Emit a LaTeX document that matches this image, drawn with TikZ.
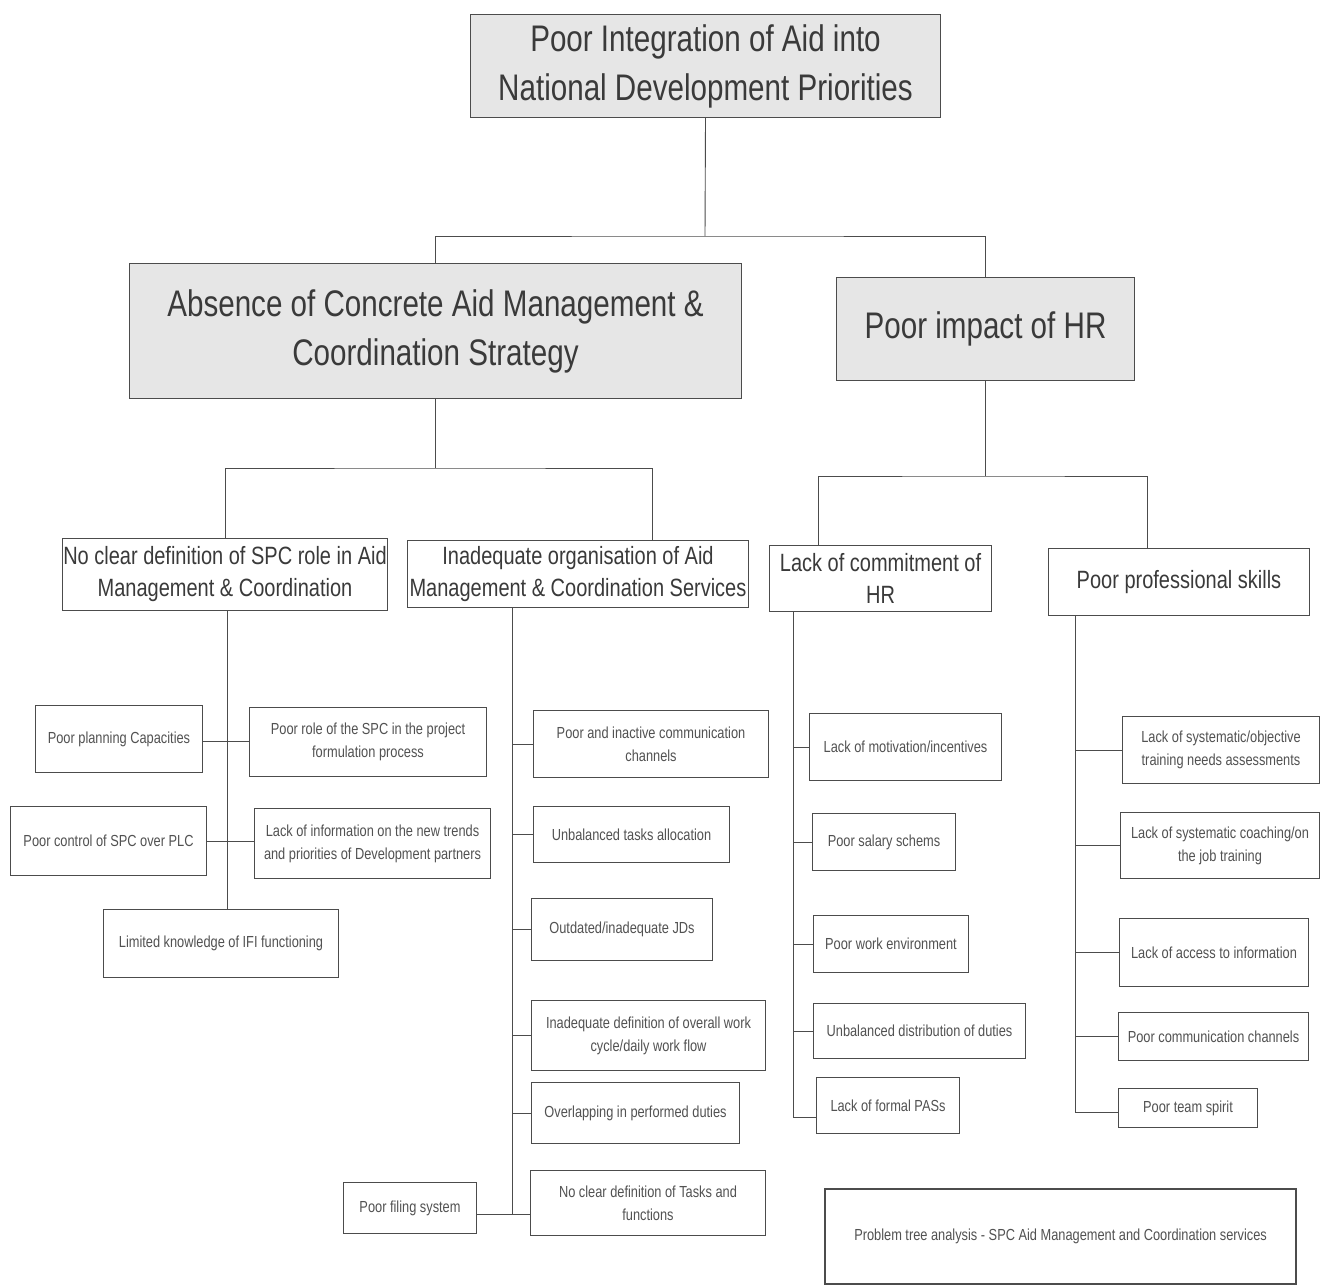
\documentclass[tikz,border=0pt]{standalone}
\usepackage{fontspec}
\setmainfont{Liberation Sans}
\newfontfamily\nar[FakeStretch=0.8]{Liberation Sans}
\definecolor{ink}{HTML}{3A3A3A}
\definecolor{boxfill}{HTML}{E6E6E6}
\newcommand\bx[7][]{%
  \node[#1, minimum width={(#5-#3)*1pt}, minimum height={(#6-#4)*1pt}, anchor=north west] (#2) at (#3,#4) {#7};}
\begin{document}
\begin{tikzpicture}[x=1pt,y=-1pt,
  box/.style={draw=black!70, line width=1pt, inner sep=0pt, align=center, text=black!68, font=\nar\fontsize{16}{23}\selectfont},
  big/.style={box, fill=boxfill, text=ink, font=\nar\fontsize{37}{49}\selectfont},
  mid/.style={box, text=ink, font=\nar\fontsize{25}{32}\selectfont},
  legendbox/.style={box, line width=2.2pt, draw=black!70},
  wire/.style={draw=black!70, line width=0.9pt}]
\useasboundingbox (0,0) rectangle (1322,1285);
\fill[white] (0,0) rectangle (1322,1285);

% level 0-1
\bx[big]{top}{470}{14}{940}{117}{Poor Integration of Aid into\\National Development Priorities}
\bx[big]{A}{129}{263}{741}{398}{Absence of Concrete Aid Management \&\\Coordination Strategy}
\bx[big]{B}{836}{277}{1134}{380}{Poor impact of HR}

% level 2
\bx[mid]{C1}{62}{538}{387}{610}{No clear definition of SPC role in Aid\\Management \& Coordination}
\bx[mid]{C2}{407}{540}{748}{607}{Inadequate organisation of Aid\\Management \& Coordination Services}
\bx[mid]{C3}{769}{545}{991}{611}{Lack of commitment of\\HR}
\bx[mid]{C4}{1048}{548}{1309}{615}{Poor professional skills}

% left column
\bx[box]{pp}{35}{705}{202}{772}{Poor planning Capacities}
\bx[box]{pr}{249}{707}{486}{776}{Poor role of the SPC in the project\\formulation process}
\bx[box]{pc}{10}{806}{206}{875}{Poor control of SPC over PLC}
\bx[box]{li}{254}{808}{490}{878}{Lack of information on the new trends\\and priorities of Development partners}
\bx[box]{lk}{103}{909}{338}{977}{Limited knowledge of IFI functioning}

% middle column
\bx[box]{m1}{533}{710}{768}{777}{Poor and inactive communication\\channels}
\bx[box]{m2}{533}{806}{729}{862}{Unbalanced tasks allocation}
\bx[box]{m3}{531}{898}{712}{960}{Outdated/inadequate JDs}
\bx[box]{m4}{531}{1000}{765}{1070}{Inadequate definition of overall work\\cycle/daily work flow}
\bx[box]{m5}{531}{1082}{739}{1143}{Overlapping in performed duties}
\bx[box]{m6}{530}{1170}{765}{1235}{No clear definition of Tasks and\\functions}
\bx[box]{pf}{343}{1182}{476}{1233}{Poor filing system}

% HR commitment column
\bx[box]{r1}{809}{713}{1001}{780}{Lack of motivation/incentives}
\bx[box]{r2}{812}{813}{955}{870}{Poor salary schems}
\bx[box]{r3}{813}{915}{968}{972}{Poor work environment}
\bx[box]{r4}{813}{1003}{1025}{1058}{Unbalanced distribution of duties}
\bx[box]{r5}{816}{1077}{959}{1133}{Lack of formal PASs}

% professional skills column
\bx[box]{s1}{1122}{716}{1319}{783}{Lack of systematic/objective\\training needs assessments}
\bx[box]{s2}{1120}{812}{1319}{878}{Lack of systematic coaching/on\\the job training}
\bx[box]{s3}{1119}{918}{1308}{986}{Lack of access to information}
\bx[box]{s4}{1118}{1012}{1308}{1060}{Poor communication channels}
\bx[box]{s5}{1118}{1088}{1257}{1127}{Poor team spirit}

% legend
\bx[legendbox]{lg}{824}{1188}{1295}{1283}{Problem tree analysis - SPC Aid Management and Coordination services}

% helper coordinates
\coordinate (j1) at (705,236);
\coordinate (j2) at (441,468);
\coordinate (j3) at (984,476);
\coordinate (c2x) at (652,0);
\coordinate (c3x) at (818,0);
\coordinate (c4x) at (1147,0);
\coordinate (lx) at (227,0);
\coordinate (mx) at (512,0);
\coordinate (rx) at (793,0);
\coordinate (sx) at (1075,0);
\coordinate (tpp) at (0,741);
\coordinate (tpc) at (0,841);
\coordinate (tm6) at (0,1214);
\coordinate (tr5) at (0,1117);
\coordinate (ts5) at (0,1112);

% top level connectors
\draw[wire] (top.south) -- (j1);
\draw[wire] (A.north) |- (j1) -| (B.north);
\draw[wire] (A.south) -- (A.south |- j2);
\draw[wire] (C1.north) |- (j2) -| (C2.north -| c2x);
\draw[wire] (B.south) -- (B.south |- j3);
\draw[wire] (C3.north -| c3x) |- (j3) -| (C4.north -| c4x);

% left column
\draw[wire] (C1.south -| lx) -- (lk.north -| lx);
\draw[wire] (pp.east |- tpp) -- (pr.west |- tpp);
\draw[wire] (pc.east |- tpc) -- (li.west |- tpc);

% middle column
\draw[wire] (C2.south -| mx) -- (mx |- tm6);
\foreach \n in {m1,m2,m3,m4,m5}{\draw[wire] (\n.west -| mx) -- (\n.west);}
\draw[wire] (pf.east |- tm6) -- (m6.west |- tm6);

% HR commitment column
\draw[wire] (C3.south -| rx) -- (rx |- tr5) -- (r5.west |- tr5);
\foreach \n in {r1,r2,r3,r4}{\draw[wire] (\n.west -| rx) -- (\n.west);}

% professional skills column
\draw[wire] (C4.south -| sx) -- (sx |- ts5) -- (s5.west |- ts5);
\foreach \n in {s1,s2,s3,s4}{\draw[wire] (\n.west -| sx) -- (\n.west);}
\end{tikzpicture}
\end{document}
